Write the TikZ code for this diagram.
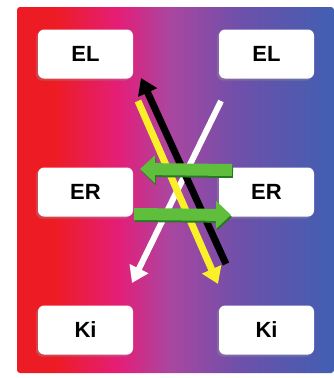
\documentclass[tikz,border=0pt]{standalone}
\usepackage{fontspec}
\setmainfont{Liberation Sans}
\usetikzlibrary{arrows.meta}
\definecolor{cA}{RGB}{237,28,36}
\definecolor{cB}{RGB}{228,30,120}
\definecolor{cC}{RGB}{170,70,160}
\definecolor{cD}{RGB}{110,80,170}
\definecolor{cE}{RGB}{65,95,178}
\definecolor{grn}{RGB}{95,190,60}
\definecolor{dgrn}{RGB}{40,120,35}
\definecolor{yel}{RGB}{250,240,40}
\pgfdeclarehorizontalshading{bgshade}{100bp}{color(0bp)=(cA); color(25bp)=(cA); color(31bp)=(cA); color(41bp)=(cB); color(49bp)=(cC); color(60bp)=(cD); color(75bp)=(cE); color(100bp)=(cE)}
\tikzset{
  lbl/.style={fill=white, rounded corners=6pt, minimum width=95pt, minimum height=49pt,
    inner sep=0pt, font=\bfseries\fontsize{22}{22}\selectfont},
  lblshadow/.style={fill=black!40, opacity=0.35, rounded corners=6pt, minimum width=95pt,
    minimum height=49pt, inner sep=0pt},
  thinarrow/.style={line width=7pt, -{Triangle[length=16pt,width=20pt]}},
  greenarrow/.style={line width=12pt, -{Triangle[length=15pt,width=27pt]}},
}
\begin{document}
\begin{tikzpicture}[x=1pt,y=-1pt]
\useasboundingbox (0,0) rectangle (334,378);
\fill[white] (0,0) rectangle (334,378);
\shade[shading=bgshade, rounded corners=3pt] (17,7) rectangle (334,373);
% label shadows
\foreach \px/\py [count=\i] in {85.5/54, 266.5/54, 85.5/192, 266.5/192, 85.5/330, 266.5/330}
  \node[lblshadow] (sh\i) at (\px-2,\py+2) {};
\node[lbl] (el1) at (85.5,54) {EL};
\node[lbl] (el2) at (266.5,54) {EL};
\node[lbl] (er1) at (85.5,192) {ER};
\node[lbl] (er2) at (266.5,192) {ER};
\node[lbl] (ki1) at (85.5,330) {Ki};
\node[lbl] (ki2) at (266.5,330) {Ki};
% arrow end points
\coordinate (wS) at (221,101);
\coordinate (wE) at (132,283);
\coordinate (bS) at (226,264);
\coordinate (bE) at (141,78);
\coordinate (yS) at (138,101);
\coordinate (yE) at (218,284);
\coordinate (g1S) at (232,170);
\coordinate (g1E) at (140,169);
\coordinate (g2S) at (134,214);
\coordinate (g2E) at (231,215);
\coordinate (g1Ss) at (233,172);
\coordinate (g1Es) at (141,171);
\coordinate (g2Ss) at (135,216);
\coordinate (g2Es) at (232,217);
% white arrow
\draw[thinarrow, white, line width=6pt] (wS) -- (wE);
% black arrow
\draw[thinarrow, black] (bS) -- (bE);
% yellow arrow
\draw[thinarrow, yel] (yS) -- (yE);
% green arrows
\draw[greenarrow, dgrn] (g1Ss) -- (g1Es);
\draw[greenarrow, grn] (g1S) -- (g1E);
\draw[greenarrow, dgrn] (g2Ss) -- (g2Es);
\draw[greenarrow, grn] (g2S) -- (g2E);
\end{tikzpicture}
\end{document}
